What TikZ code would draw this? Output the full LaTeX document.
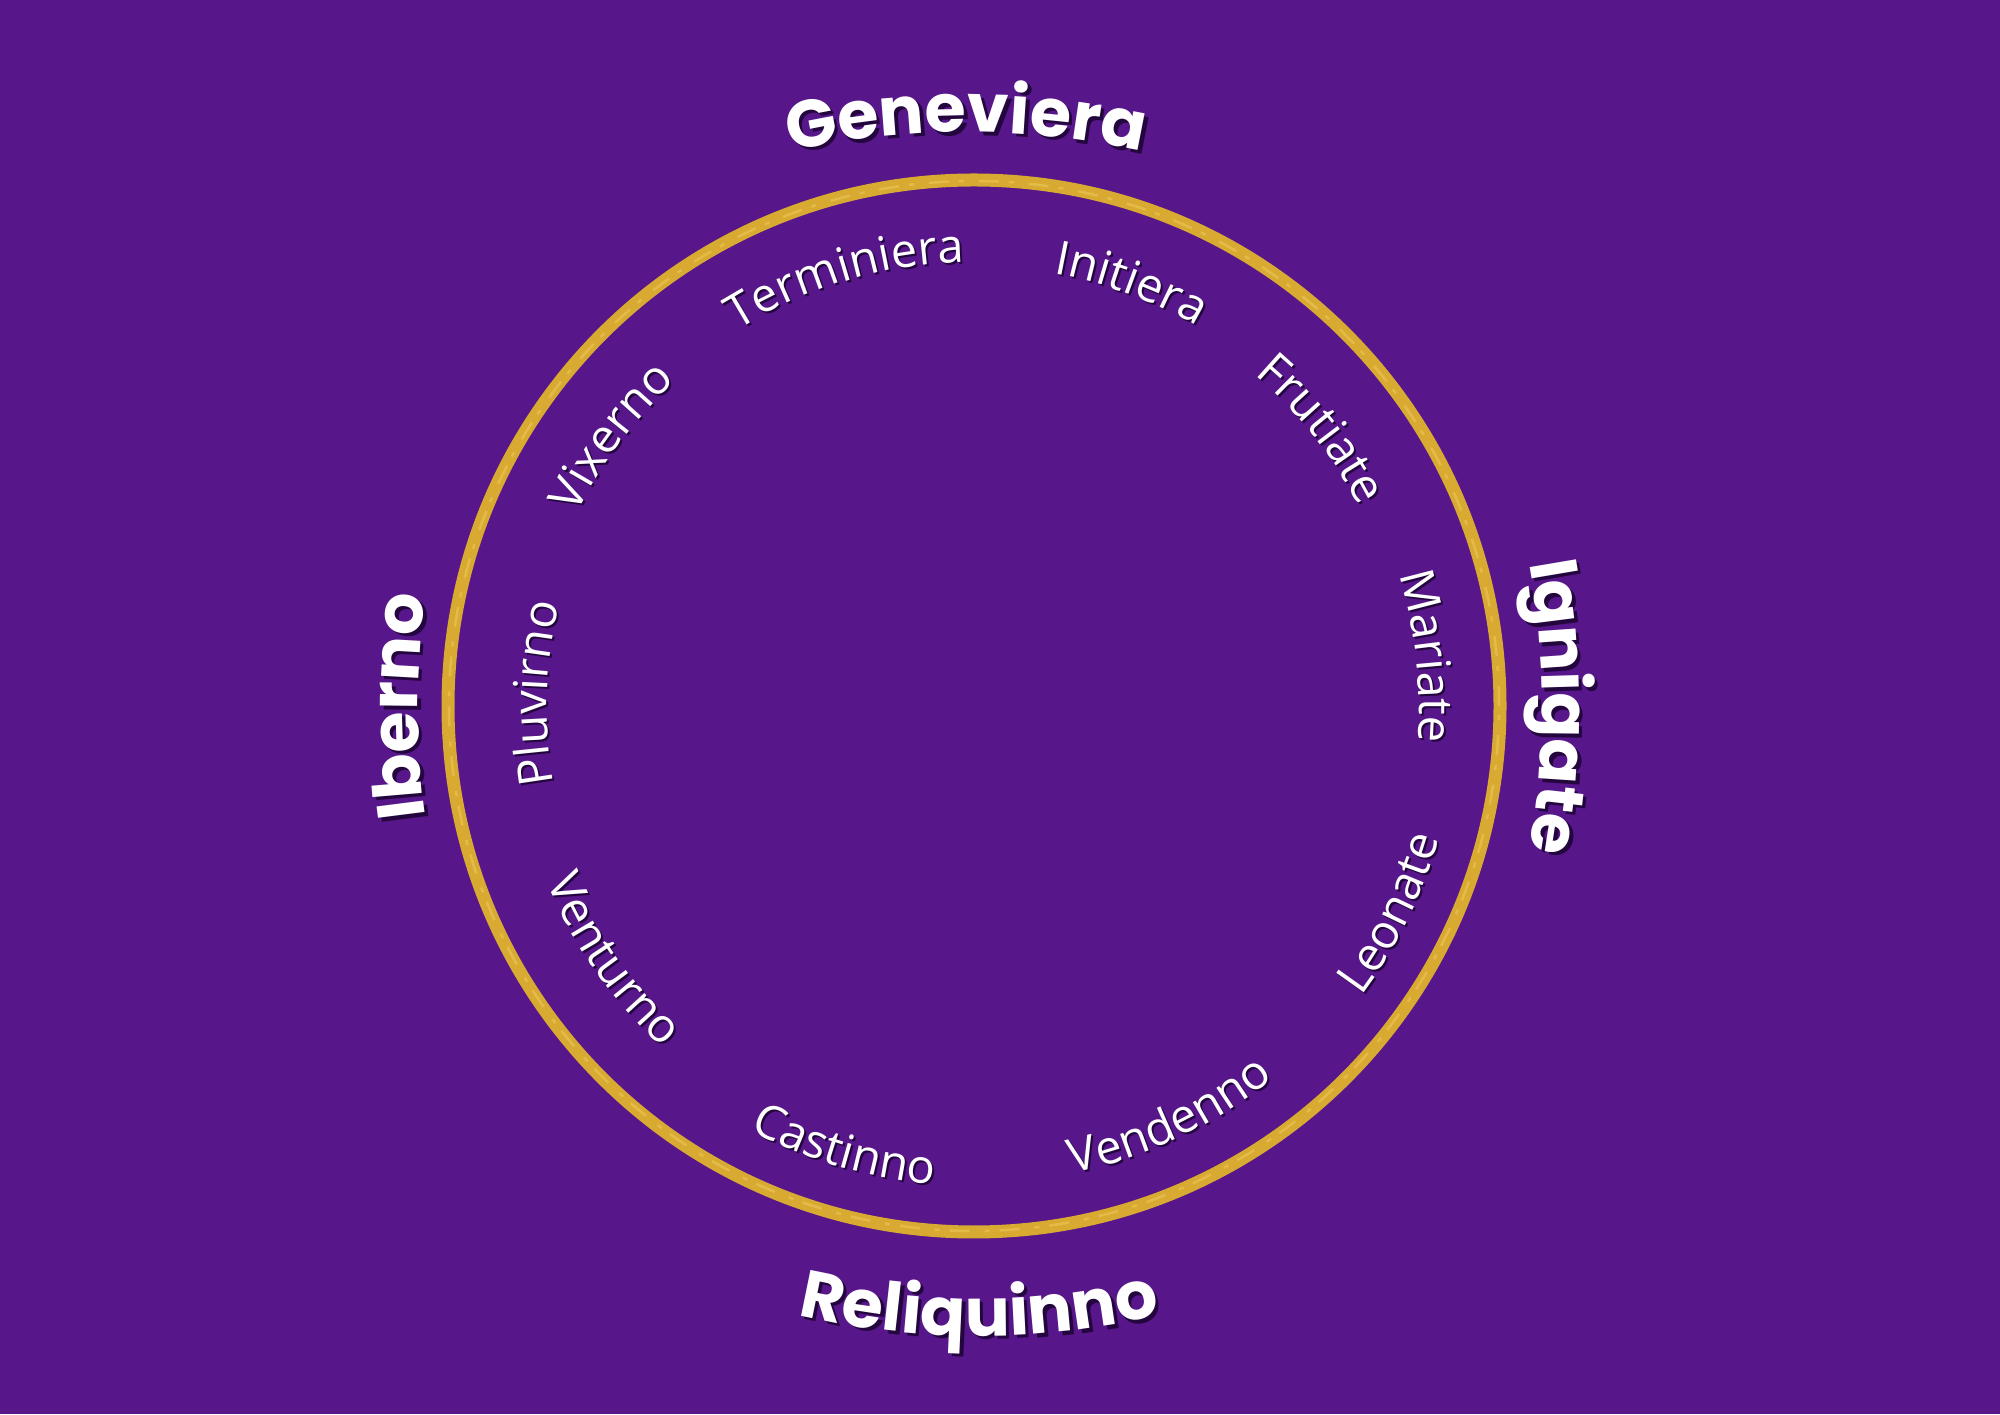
\documentclass[tikz,border=0pt]{standalone}
\usepackage{fontspec}
\usetikzlibrary{decorations.text}
\newfontfamily\labfont{Open Sans}
\newfontfamily\headfont{Poppins}
\definecolor{bgpurple}{RGB}{87,22,138}
\definecolor{ringgold}{RGB}{216,170,50}
\definecolor{ringlight}{RGB}{240,204,96}
\definecolor{shade}{RGB}{36,6,62}
\newcommand\smallfmt{\labfont\fontsize{13.4pt}{16pt}\selectfont}
\newcommand\bigfmt{\headfont\bfseries\fontsize{19pt}{23pt}\selectfont}
% clockwise arc label: cx, cy, angle, radius, format, text, shadow offset
\newcommand\cwlabel[7]{%
  \path[shift={(#1+#7,#2-#7)}, decorate, decoration={text along path, text align=center, text={|#5\color{shade}|#6}}]
    (#3+40:#4) arc[start angle=#3+40, end angle=#3-40, radius=#4];
  \path[shift={(#1,#2)}, decorate, decoration={text along path, text align=center, text={|#5\color{white}|#6}}]
    (#3+40:#4) arc[start angle=#3+40, end angle=#3-40, radius=#4];}
% counter-clockwise arc label
\newcommand\ccwlabel[7]{%
  \path[shift={(#1+#7,#2-#7)}, decorate, decoration={text along path, text align=center, text={|#5\color{shade}|#6}}]
    (#3-40:#4) arc[start angle=#3-40, end angle=#3+40, radius=#4];
  \path[shift={(#1,#2)}, decorate, decoration={text along path, text align=center, text={|#5\color{white}|#6}}]
    (#3-40:#4) arc[start angle=#3-40, end angle=#3+40, radius=#4];}
\begin{document}
\begin{tikzpicture}
\fill[bgpurple] (0,0) rectangle (20,14.14);
\useasboundingbox (0,0) rectangle (20,14.14);
\coordinate (C) at (9.74,7.08);
% golden ring
\draw[ringgold, line width=0.13cm] (C) circle[radius=5.26];
\draw[ringlight, line width=0.025cm, opacity=0.5, dash pattern=on 0.2cm off 0.15cm on 0.05cm off 0.1cm] (C) circle[radius=5.25];
% season headings
\cwlabel{9.66}{4.82}{90}{8}{\bigfmt}{Geneviera}{0.035}
\ccwlabel{9.79}{8.78}{270}{8}{\bigfmt}{Reliquinno}{0.035}
\cwlabel{12.18}{7.08}{180}{8}{\bigfmt}{Iberno}{0.035}
\cwlabel{7.42}{7.07}{0}{8}{\bigfmt}{Ignigate}{0.035}
% months (upper, outward)
\cwlabel{9.74}{7.08}{106.7}{4.44}{\smallfmt}{Terminiera}{0.02}
\cwlabel{9.74}{7.08}{69.6}{4.40}{\smallfmt}{Initiera}{0.02}
\cwlabel{9.74}{7.08}{38.6}{4.34}{\smallfmt}{Frutiate}{0.02}
\cwlabel{9.74}{7.08}{6.3}{4.45}{\smallfmt}{Mariate}{0.02}
\cwlabel{9.74}{7.08}{178.3}{4.27}{\smallfmt}{Pluvirno}{0.02}
\cwlabel{9.74}{7.08}{143.4}{4.41}{\smallfmt}{Vixerno}{0.02}
% months (lower, inward)
\ccwlabel{9.74}{7.08}{-26.4}{4.84}{\smallfmt}{Leonate}{0.02}
\ccwlabel{9.74}{7.08}{-64.6}{4.78}{\smallfmt}{Vendenno}{0.02}
\ccwlabel{9.74}{7.08}{-106.3}{4.80}{\smallfmt}{Castinno}{0.02}
\ccwlabel{9.74}{7.08}{-145}{4.62}{\smallfmt}{Venturno}{0.02}
\end{tikzpicture}
\end{document}
